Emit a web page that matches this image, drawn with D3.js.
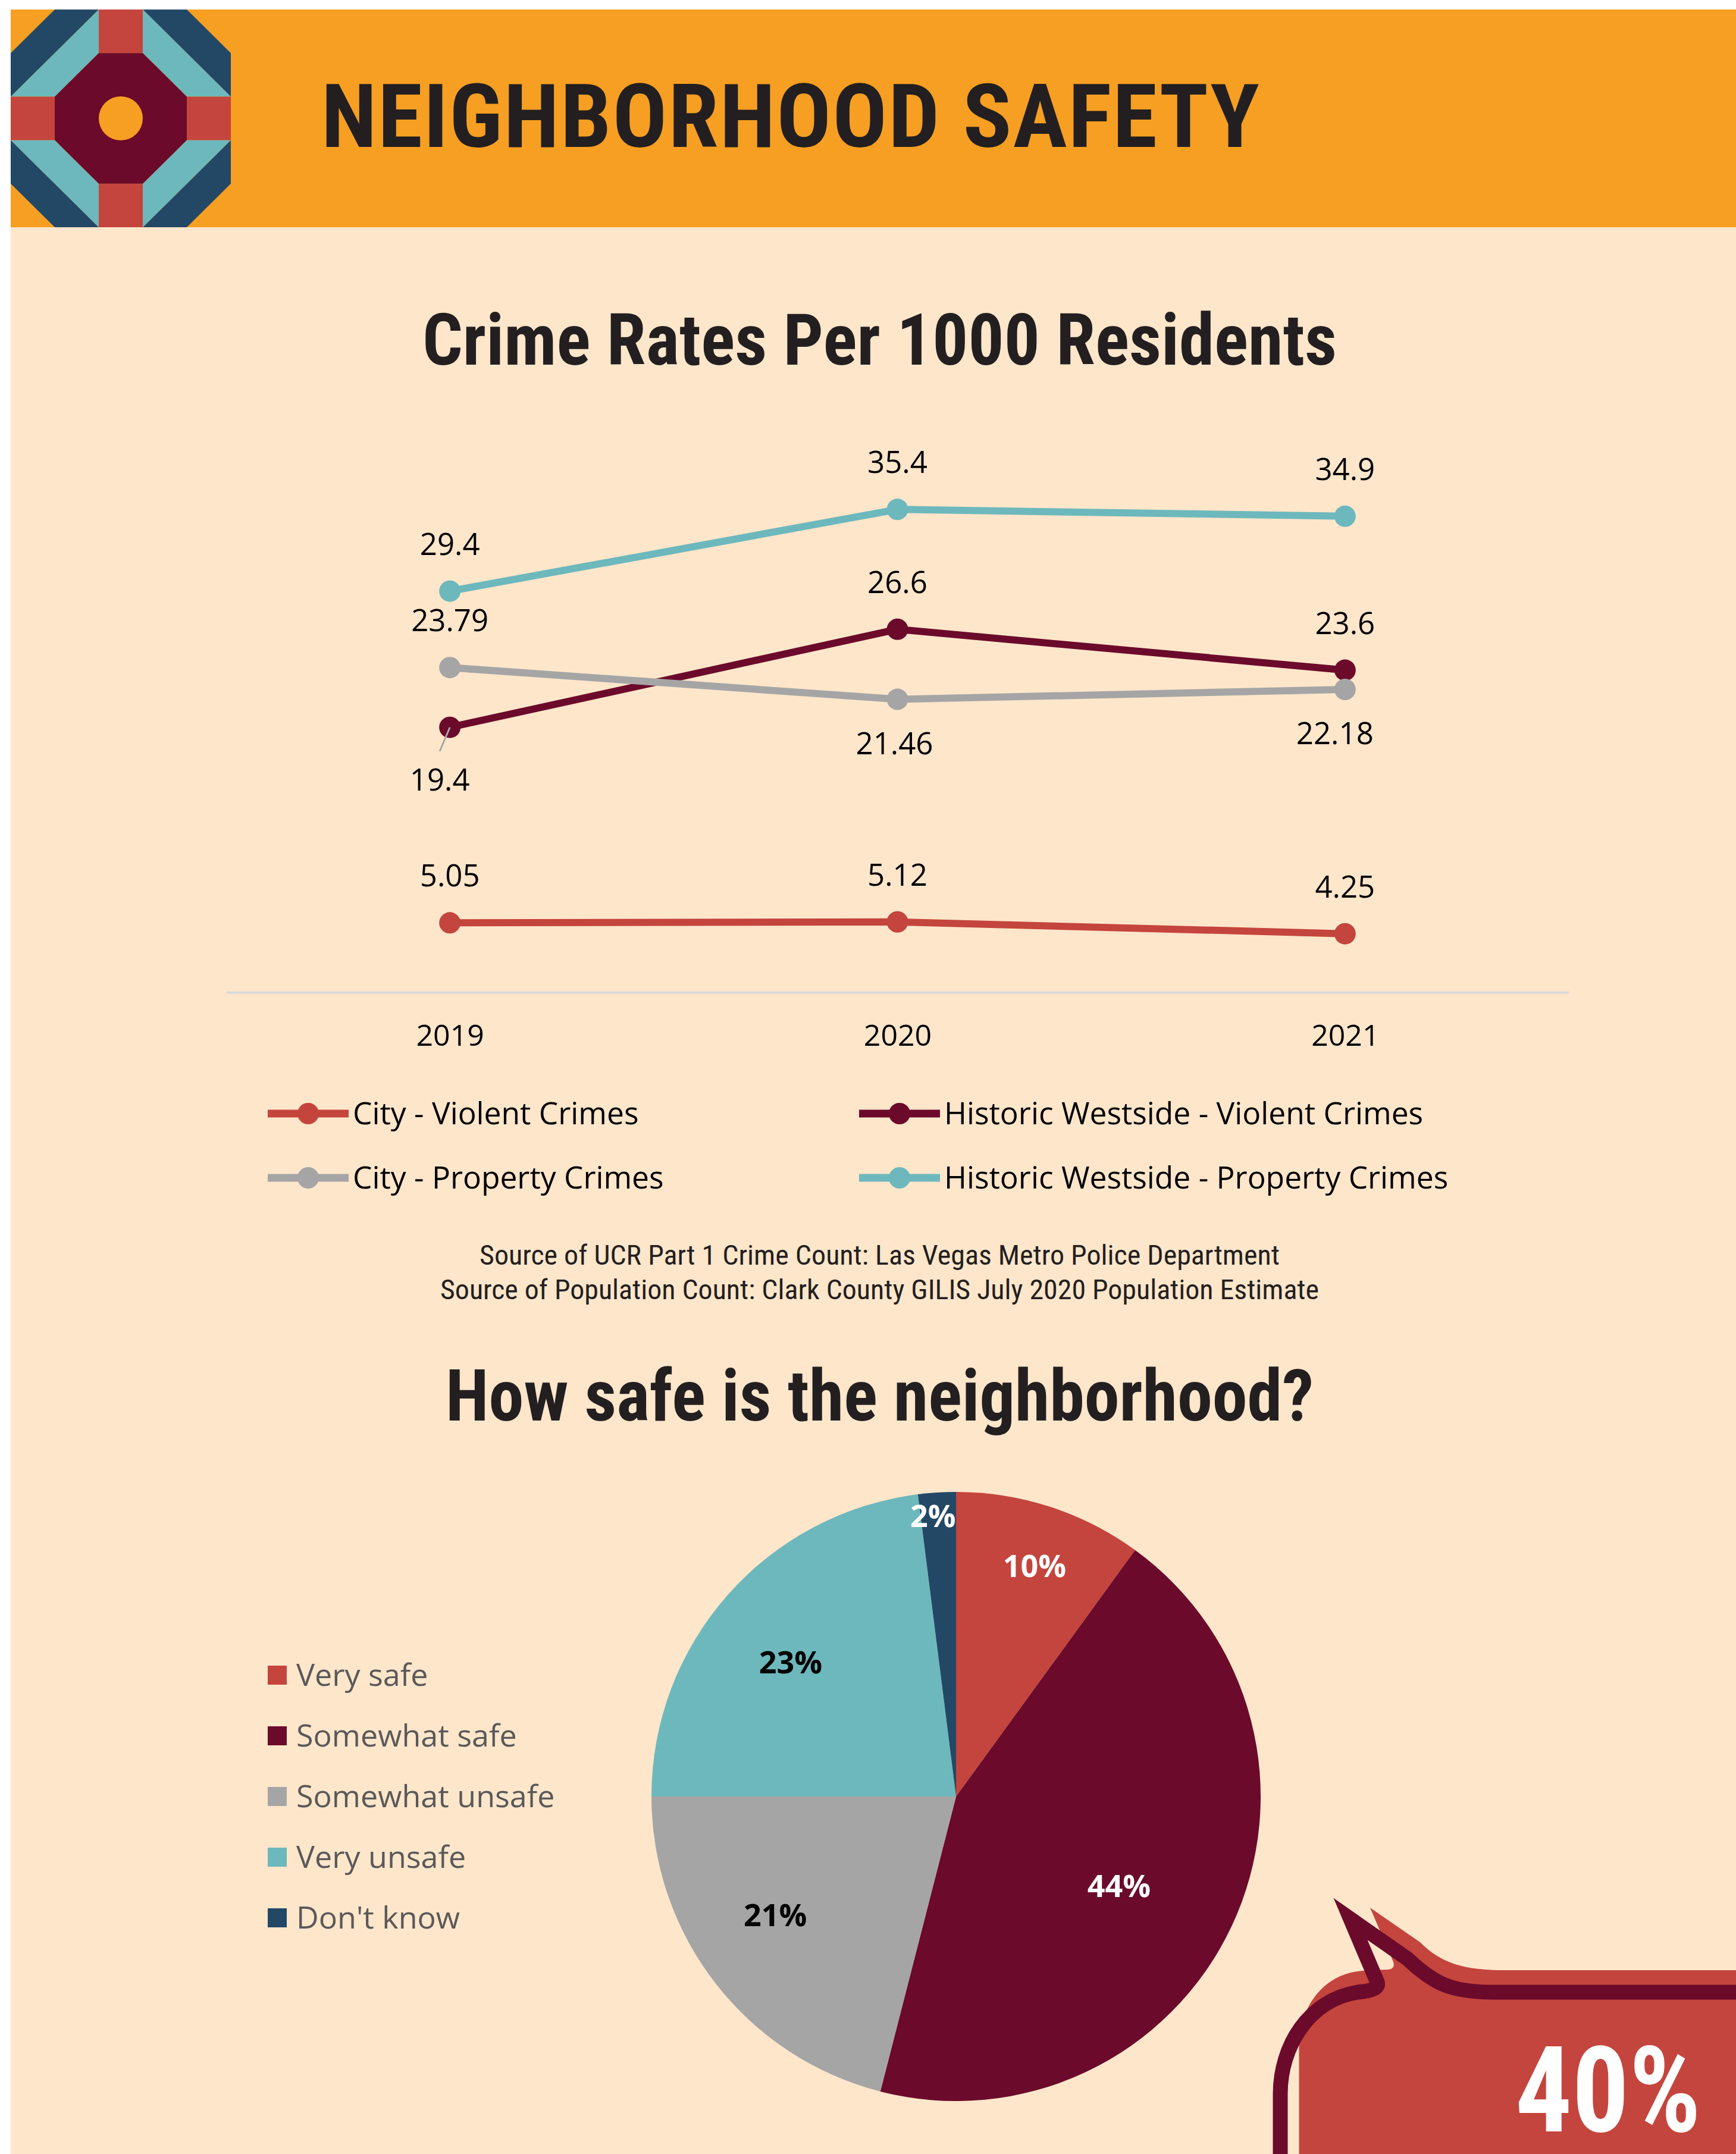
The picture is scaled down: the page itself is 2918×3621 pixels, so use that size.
<!DOCTYPE html>
<html><head><meta charset="utf-8">
<script src="https://cdn.jsdelivr.net/npm/d3@7"></script>
<style>body{margin:0;background:#fff}svg{display:block}</style>
</head><body>
<script>
// ---------- DATA ----------
const years = ["2019", "2020", "2021"];
const cityViolent = [5.05, 5.12, 4.25];
const hwViolent = [19.4, 26.6, 23.6];
const cityProperty = [23.79, 21.46, 22.18];
const hwProperty = [29.4, 35.4, 34.9];
const seriesNames = ["City - Violent Crimes", "Historic Westside - Violent Crimes", "City - Property Crimes", "Historic Westside - Property Crimes"];
const yDomain = [0, 40];

const pieCategories = ["Very safe", "Somewhat safe", "Somewhat unsafe", "Very unsafe", "Don't know"];
const pieValues = [10, 44, 21, 23, 2];

const headerTitle = "NEIGHBORHOOD SAFETY";
const chartTitle = "Crime Rates Per 1000 Residents";
const pieTitle = "How safe is the neighborhood?";
const sourceLines = ["Source of UCR Part 1 Crime Count: Las Vegas Metro Police Department",
                     "Source of Population Count: Clark County GILIS July 2020 Population Estimate"];
const calloutText = "40%";

// ---------- STYLE ----------
const C = {
  orange: "#f69f22", cream: "#fee6cb", red: "#c4453d", maroon: "#6b0a2b",
  gray: "#a5a5a5", teal: "#6db8bc", navy: "#234866", ink: "#231f20"
};
const W = 2918, H = 3621;
const svg = d3.select("body").append("svg").attr("width", W).attr("height", H);

svg.append("rect").attr("width", W).attr("height", H).attr("fill", "#fff");
svg.append("rect").attr("x", 18).attr("y", 382).attr("width", W - 18).attr("height", H - 382).attr("fill", C.cream);
svg.append("rect").attr("x", 18).attr("y", 16).attr("width", W - 18).attr("height", 366).attr("fill", C.orange);

// ---------- LOGO ----------
const lg = svg.append("g");
const ux = 74, uy = 73.2, lx = 18, ly = 16;
const P = (c, r) => [lx + c * ux, ly + r * uy];
const poly = (pts, fill) => lg.append("polygon").attr("points", pts.map(p => P(p[0], p[1]).join(",")).join(" ")).attr("fill", fill);
[[[1,0],[2,0],[0,2],[0,1]], [[4,0],[3,0],[5,2],[5,1]], [[1,5],[2,5],[0,3],[0,4]], [[4,5],[3,5],[5,3],[5,4]]].forEach(p => poly(p, C.navy));
[[[2,0],[2,1],[1,2],[0,2]], [[3,0],[3,1],[4,2],[5,2]], [[2,5],[2,4],[1,3],[0,3]], [[3,5],[3,4],[4,3],[5,3]]].forEach(p => poly(p, C.teal));
[[[2,0],[3,0],[3,1],[2,1]], [[0,2],[1,2],[1,3],[0,3]], [[4,2],[5,2],[5,3],[4,3]], [[2,4],[3,4],[3,5],[2,5]]].forEach(p => poly(p, C.red));
poly([[2,1],[3,1],[4,2],[4,3],[3,4],[2,4],[1,3],[1,2]], C.maroon);
lg.append("circle").attr("cx", P(2.5, 2.5)[0]).attr("cy", P(2.5, 2.5)[1]).attr("r", 37).attr("fill", C.orange);

// ---------- TITLES ----------
const condensed = "'Roboto Condensed', Roboto, sans-serif";
function fitText(x, y, str, size, weight, width, fill) {
  return svg.append("text").attr("x", x).attr("y", y).text(str)
    .attr("font-family", condensed).attr("font-size", size).attr("font-weight", weight)
    .attr("fill", fill).attr("textLength", width).attr("lengthAdjust", "spacingAndGlyphs");
}
fitText(540, 247, headerTitle, 148, 700, 1579, C.ink).attr("letter-spacing", 2);
fitText(710, 613, chartTitle, 120, 700, 1537, C.ink);
fitText(749, 2388, pieTitle, 120, 700, 1459, C.ink);
fitText(806, 2126, sourceLines[0], 47, 400, 1345, C.ink);
fitText(740, 2184, sourceLines[1], 47, 400, 1477, C.ink);

// ---------- LINE CHART ----------
const font = "'Open Sans', 'Noto Sans', sans-serif";
const x = d3.scalePoint().domain(years).range([380, 2637]).padding(0.5);
const y = d3.scaleLinear().domain(yDomain).range([1667, 751]);

const axis = svg.append("g").attr("transform", "translate(0,1668)")
  .call(d3.axisBottom(x).tickSize(0).tickSizeOuter(0).tickPadding(54));
axis.select(".domain").attr("stroke", "#d9d9d9").attr("stroke-width", 4);
axis.selectAll("text").attr("font-family", font).attr("font-size", 50).attr("fill", "#000");

const series = [
  { name: seriesNames[0], values: cityViolent, color: C.red, below: [false, false, false] },
  { name: seriesNames[1], values: hwViolent, color: C.maroon, below: [true, false, false] },
  { name: seriesNames[2], values: cityProperty, color: C.gray, below: [false, true, true] },
  { name: seriesNames[3], values: hwProperty, color: C.teal, below: [false, false, false] }
];
const labelNudge = { "1-0": [-17, 14], "2-1": [-5, 0], "2-2": [-17, 0] };

const line = d3.line().x((d, i) => x(years[i])).y(d => y(d));
series.forEach((s, si) => {
  const g = svg.append("g");
  g.append("path").attr("d", line(s.values)).attr("fill", "none")
    .attr("stroke", s.color).attr("stroke-width", 12).attr("stroke-linejoin", "round");
  g.selectAll("circle").data(s.values).join("circle")
    .attr("cx", (d, i) => x(years[i])).attr("cy", d => y(d)).attr("r", 18).attr("fill", s.color);
});
series.forEach((s, si) => {
  s.values.forEach((v, i) => {
    const nd = labelNudge[si + "-" + i] || [0, 0];
    const px = x(years[i]), py = y(v);
    const ty = s.below[i] ? py + 92 : py - 61;
    if (si === 1 && i === 0) {
      svg.append("line").attr("x1", px).attr("y1", py).attr("x2", px - 17).attr("y2", py + 40)
        .attr("stroke", "#a6a6a6").attr("stroke-width", 3);
    }
    svg.append("text").attr("x", px + nd[0]).attr("y", ty + nd[1]).attr("text-anchor", "middle")
      .attr("font-family", font).attr("font-size", 51).attr("fill", "#000").text(String(v));
  });
});

// legend
const legendCols = [450, 1444], legendRows = [1872, 1980];
series.forEach((s, i) => {
  const lx0 = legendCols[i % 2], ly0 = legendRows[Math.floor(i / 2)];
  const g = svg.append("g");
  g.append("line").attr("x1", lx0).attr("x2", lx0 + 136).attr("y1", ly0).attr("y2", ly0)
    .attr("stroke", s.color).attr("stroke-width", 13);
  g.append("circle").attr("cx", lx0 + 68).attr("cy", ly0).attr("r", 18).attr("fill", s.color);
  g.append("text").attr("x", lx0 + 143).attr("y", ly0 + 18).attr("font-family", font)
    .attr("font-size", 51.5).attr("fill", "#000").text(s.name);
});

// ---------- PIE ----------
const pieColors = [C.red, C.maroon, C.gray, C.teal, C.navy];
const pieTextColors = ["#fff", "#fff", "#000", "#000", "#fff"];
const labelRadius = [0.80, 0.61, 0.71, 0.70, 0.925];
const labelAngleNudge = [0.8, 3.5, 4.5, -2.3, -1.1];
const cx = 1607, cy = 3020, R = 512;
const pie = d3.pie().sort(null).value(d => d)(pieValues);
const arc = d3.arc().innerRadius(0).outerRadius(R);
const pg = svg.append("g").attr("transform", `translate(${cx},${cy})`);
pg.selectAll("path").data(pie).join("path").attr("d", arc).attr("fill", (d, i) => pieColors[i]);
pg.selectAll("text").data(pie).join("text")
  .attr("transform", (d, i) => {
    const a = (d.startAngle + d.endAngle) / 2 + labelAngleNudge[i] * Math.PI / 180;
    const r = labelRadius[i] * R;
    return `translate(${r * Math.sin(a)},${-r * Math.cos(a)})`;
  })
  .attr("text-anchor", "middle").attr("dy", "0.36em")
  .attr("font-family", font).attr("font-weight", 700).attr("font-size", 52)
  .attr("fill", (d, i) => pieTextColors[i])
  .text(d => Math.round(d.value / d3.sum(pieValues) * 100) + "%");

// pie legend
pieCategories.forEach((c, i) => {
  const yy = 2816 + i * 102;
  svg.append("rect").attr("x", 450).attr("y", yy - 16).attr("width", 32).attr("height", 32).attr("fill", pieColors[i]);
  svg.append("text").attr("x", 498).attr("y", yy + 18).attr("font-family", font).attr("font-size", 52)
    .attr("fill", "#595959").text(c);
});

// ---------- CALLOUT ----------
svg.append("path")
  .attr("d", "M2183.5,3700 L2183.5,3440 C2183.5,3380 2220,3318 2290,3313 L2330,3311 Q2346,3311 2342,3298 L2303,3207 L2387,3265 C2425,3303 2465,3312 2530,3312 L2930,3312 L2930,3700 Z")
  .attr("fill", C.red);
svg.append("path")
  .attr("d", "M2152,3700 L2152,3520 C2152,3440 2200,3362 2282,3349 Q2320,3346 2315,3332 L2270,3226 L2366,3293 C2410,3335 2440,3349 2510,3349 L2930,3349")
  .attr("fill", "none").attr("stroke", C.maroon).attr("stroke-width", 25)
  .attr("stroke-linejoin", "miter").attr("stroke-miterlimit", 10);
fitText(2547, 3583, calloutText, 200, 700, 312, "#fff");
</script>
</body></html>
